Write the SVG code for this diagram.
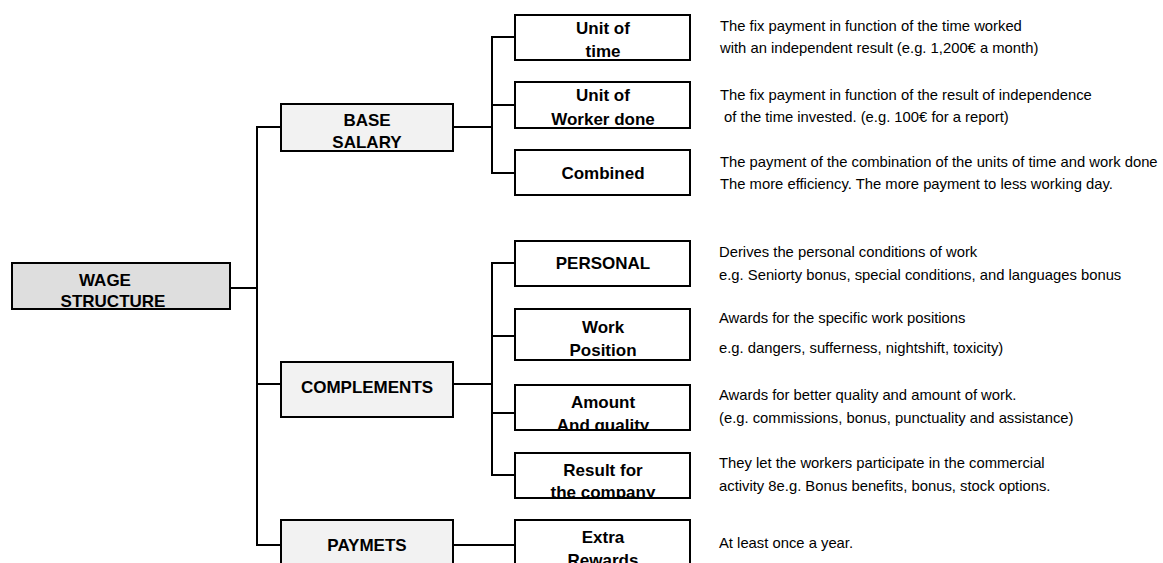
<svg xmlns="http://www.w3.org/2000/svg" width="1163" height="563" viewBox="0 0 1163 563">
<style>
.box{stroke:#000;stroke-width:2;}
.main{fill:#dedede;}
.cat{fill:#f2f2f2;}
.sub{fill:#fff;}
.lbl{font-family:"Liberation Sans",Arial,sans-serif;font-weight:bold;font-size:17px;fill:#000;text-anchor:middle;}
.desc{font-family:"Liberation Sans",Arial,sans-serif;font-size:14.8px;fill:#000;}
.conn line{stroke:#000;stroke-width:2;}
</style>
<defs>
<clipPath id="cW"><rect x="12" y="263" width="218" height="46"/></clipPath>
<clipPath id="cB"><rect x="281" y="104" width="172" height="47"/></clipPath>
<clipPath id="cU1"><rect x="515" y="15" width="175" height="45"/></clipPath>
<clipPath id="cU2"><rect x="515" y="82" width="175" height="46"/></clipPath>
<clipPath id="cA"><rect x="515" y="385" width="175" height="45"/></clipPath>
<clipPath id="cR"><rect x="515" y="453" width="175" height="45"/></clipPath>
<clipPath id="cE"><rect x="515" y="520" width="175" height="50"/></clipPath>
</defs>
<rect width="1163" height="563" fill="#fff"/>
<g class="conn">
<line x1="230" y1="288" x2="257" y2="288"/>
<line x1="257" y1="126" x2="257" y2="546"/>
<line x1="256" y1="127" x2="281" y2="127"/>
<line x1="256" y1="384" x2="281" y2="384"/>
<line x1="256" y1="545" x2="281" y2="545"/>
<line x1="453" y1="127" x2="492" y2="127"/>
<line x1="492" y1="36" x2="492" y2="174"/>
<line x1="491" y1="37" x2="515" y2="37"/>
<line x1="491" y1="105" x2="515" y2="105"/>
<line x1="491" y1="173" x2="515" y2="173"/>
<line x1="453" y1="384" x2="492" y2="384"/>
<line x1="492" y1="262" x2="492" y2="476"/>
<line x1="491" y1="263" x2="515" y2="263"/>
<line x1="491" y1="336" x2="515" y2="336"/>
<line x1="491" y1="413" x2="515" y2="413"/>
<line x1="491" y1="475" x2="515" y2="475"/>
<line x1="453" y1="545" x2="515" y2="545"/>
</g>
<g id="wage">
<rect class="box main" x="12" y="263" width="218" height="46"/>
<g clip-path="url(#cW)"><text class="lbl" x="105" y="286">WAGE</text><text class="lbl" x="113" y="307">STRUCTURE</text></g>
<rect x="12" y="263" width="218" height="46" fill="none" stroke="#000" stroke-width="2"/>
</g>
<g id="base-salary">
<rect class="box cat" x="281" y="104" width="172" height="47"/>
<g clip-path="url(#cB)"><text class="lbl" x="367" y="126">BASE</text><text class="lbl" x="367" y="148">SALARY</text></g>
<rect x="281" y="104" width="172" height="47" fill="none" stroke="#000" stroke-width="2"/>
</g>
<g id="complements">
<rect class="box cat" x="281" y="362" width="172" height="55"/>
<text class="lbl" x="367" y="393">COMPLEMENTS</text>
</g>
<g id="paymets">
<rect class="box cat" x="281" y="520" width="172" height="60"/>
<text class="lbl" x="367" y="551">PAYMETS</text>
</g>
<g id="unit-time">
<rect class="box sub" x="515" y="15" width="175" height="45"/>
<g clip-path="url(#cU1)"><text class="lbl" x="603" y="34">Unit of</text><text class="lbl" x="603" y="57">time</text></g>
<rect x="515" y="15" width="175" height="45" fill="none" stroke="#000" stroke-width="2"/>
</g>
<g id="unit-work">
<rect class="box sub" x="515" y="82" width="175" height="46"/>
<g clip-path="url(#cU2)"><text class="lbl" x="603" y="101">Unit of</text><text class="lbl" x="603" y="125">Worker done</text></g>
<rect x="515" y="82" width="175" height="46" fill="none" stroke="#000" stroke-width="2"/>
</g>
<g id="combined">
<rect class="box sub" x="515" y="150" width="175" height="45"/>
<text class="lbl" x="603" y="179">Combined</text>
</g>
<g id="personal">
<rect class="box sub" x="515" y="241" width="175" height="45"/>
<text class="lbl" x="603" y="269">PERSONAL</text>
</g>
<g id="work-position">
<rect class="box sub" x="515" y="309" width="175" height="51"/>
<text class="lbl" x="603" y="333">Work</text><text class="lbl" x="603" y="356">Position</text>
</g>
<g id="amount-quality">
<rect class="box sub" x="515" y="385" width="175" height="45"/>
<g clip-path="url(#cA)"><text class="lbl" x="603" y="408">Amount</text><text class="lbl" x="603" y="431">And quality</text></g>
<rect x="515" y="385" width="175" height="45" fill="none" stroke="#000" stroke-width="2"/>
</g>
<g id="result-company">
<rect class="box sub" x="515" y="453" width="175" height="45"/>
<g clip-path="url(#cR)"><text class="lbl" x="603" y="476">Result for</text><text class="lbl" x="603" y="498">the company</text></g>
<rect x="515" y="453" width="175" height="45" fill="none" stroke="#000" stroke-width="2"/>
</g>
<g id="extra-rewards">
<rect class="box sub" x="515" y="520" width="175" height="60"/>
<g clip-path="url(#cE)"><text class="lbl" x="603" y="543">Extra</text><text class="lbl" x="603" y="566">Rewards</text></g>
</g>
<g id="descriptions">
<text class="desc" x="720" y="31">The fix payment in function of the time worked</text>
<text class="desc" x="720" y="53">with an independent result (e.g. 1,200€ a month)</text>
<text class="desc" x="720" y="100">The fix payment in function of the result of independence</text>
<text class="desc" x="720" y="122" xml:space="preserve"> of the time invested. (e.g. 100€ for a report)</text>
<text class="desc" x="720" y="167">The payment of the combination of the units of time and work done</text>
<text class="desc" x="720" y="189">The more efficiency. The more payment to less working day.</text>
<text class="desc" x="719" y="257">Derives the personal conditions of work</text>
<text class="desc" x="719" y="280">e.g. Seniorty bonus, special conditions, and languages bonus</text>
<text class="desc" x="719" y="323">Awards for the specific work positions</text>
<text class="desc" x="719" y="353">e.g. dangers, sufferness, nightshift, toxicity)</text>
<text class="desc" x="719" y="400">Awards for better quality and amount of work.</text>
<text class="desc" x="719" y="423">(e.g. commissions, bonus, punctuality and assistance)</text>
<text class="desc" x="719" y="468">They let the workers participate in the commercial</text>
<text class="desc" x="719" y="491">activity 8e.g. Bonus benefits, bonus, stock options.</text>
<text class="desc" x="719" y="548">At least once a year.</text>
</g>
</svg>
